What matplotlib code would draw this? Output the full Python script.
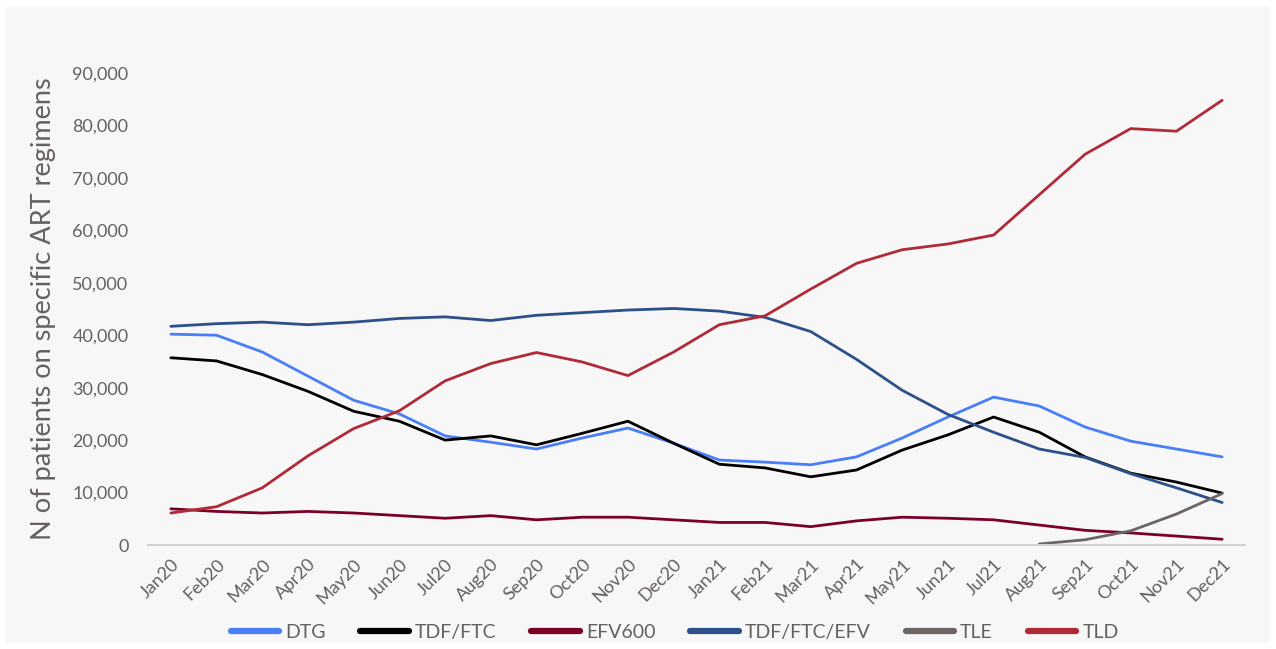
import matplotlib.pyplot as plt
from matplotlib.ticker import FuncFormatter

months = ["Jan20", "Feb20", "Mar20", "Apr20", "May20", "Jun20", "Jul20", "Aug20",
          "Sep20", "Oct20", "Nov20", "Dec20", "Jan21", "Feb21", "Mar21", "Apr21",
          "May21", "Jun21", "Jul21", "Aug21", "Sep21", "Oct21", "Nov21", "Dec21"]

dtg = [40200, 40000, 36800, 32200, 27600, 25000, 20800, 19600, 18300, 20400, 22300, 19400,
       16200, 15800, 15300, 16800, 20400, 24400, 28200, 26500, 22500, 19800, 18300, 16800]
tdf_ftc = [35700, 35100, 32500, 29300, 25500, 23600, 20000, 20800, 19100, 21300, 23600, 19400,
           15400, 14700, 13000, 14300, 18100, 21000, 24400, 21500, 16800, 13700, 12000, 9900]
efv600 = [6900, 6400, 6100, 6400, 6100, 5600, 5100, 5600, 4800, 5300, 5300, 4800,
          4300, 4300, 3500, 4600, 5300, 5100, 4800, 3800, 2800, 2300, 1700, 1100]
tdf_ftc_efv = [41700, 42200, 42500, 42000, 42500, 43200, 43500, 42800, 43800, 44300, 44800, 45100,
               44600, 43400, 40700, 35400, 29500, 24900, 21500, 18300, 16700, 13600, 10900, 8100]
tle = [None] * 19 + [200, 1000, 2700, 5900, 9800]
tld = [6100, 7300, 10900, 17000, 22200, 25600, 31300, 34600, 36700, 34900, 32300, 36800,
       42000, 43700, 48800, 53700, 56300, 57400, 59100, 66800, 74500, 79400, 78900, 84800]

series = [("DTG", dtg, "#4a7ef7"),
          ("TDF/FTC", tdf_ftc, "#000000"),
          ("EFV600", efv600, "#7a0026"),
          ("TDF/FTC/EFV", tdf_ftc_efv, "#2d4f8a"),
          ("TLE", tle, "#6b6564"),
          ("TLD", tld, "#b02a37")]

plt.rcParams['font.family'] = ['Lato', 'DejaVu Sans']
text_col = "#66605e"

fig = plt.figure(figsize=(12.76, 6.49), dpi=100, facecolor="white")
bg = plt.Rectangle((6 / 1276, 6 / 649), 1264 / 1276, 637 / 649, transform=fig.transFigure,
                   facecolor="#f7f7f7", edgecolor="none", zorder=-10)
fig.patches.append(bg)

ax = fig.add_axes([148 / 1276, 1 - 545 / 649, (1245 - 148) / 1276, (545 - 73) / 649])
ax.set_facecolor("none")

x = list(range(len(months)))
for name, vals, col in series:
    xs = [i for i, v in zip(x, vals) if v is not None]
    ys = [v for v in vals if v is not None]
    ax.plot(xs, ys, color=col, lw=2.0, label=name, solid_capstyle="round")

ax.set_xlim(-0.5, len(months) - 0.5)
ax.set_ylim(0, 90000)
ax.set_yticks(range(0, 90001, 10000))
ax.yaxis.set_major_formatter(FuncFormatter(lambda v, p: f"{int(v):,}"))
ax.set_xticks(x)
ax.set_xticklabels(months, rotation=45, ha="right", va="top", rotation_mode="anchor")

for s in ["top", "right", "left"]:
    ax.spines[s].set_visible(False)
ax.spines["bottom"].set_color("#d0d0d0")
ax.spines["bottom"].set_linewidth(1.5)
ax.tick_params(axis="both", length=0, colors=text_col, labelsize=13)
ax.tick_params(axis="y", pad=14)
ax.tick_params(axis="x", pad=8)

ax.set_ylabel("N of patients on specific ART regimens", fontsize=19.5, color=text_col, labelpad=12)

leg = ax.legend(loc="center", bbox_to_anchor=(0.48, -0.185), ncol=6, frameon=False,
                fontsize=14, handlelength=2.5, handletextpad=0.3, columnspacing=1.8)
for t in leg.get_texts():
    t.set_color(text_col)
for h in leg.get_lines():
    h.set_linewidth(4.5)
    h.set_solid_capstyle("round")

fig.savefig("out.png", dpi=100, facecolor="white")
